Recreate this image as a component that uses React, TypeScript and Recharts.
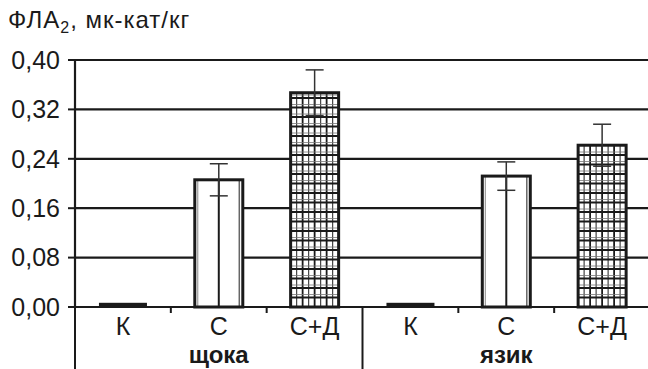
import React from 'react';
import { BarChart, Bar, XAxis, YAxis, CartesianGrid, ErrorBar } from 'recharts';

const categories = ['К', 'С', 'С+Д', 'К', 'С', 'С+Д'];
const groups = ['щока', 'щока', 'щока', 'язик', 'язик', 'язик'];
const values = [0.006, 0.206, 0.347, 0.006, 0.212, 0.262];
const errors = [0, 0.026, 0.037, 0, 0.023, 0.034];
const yTicks = [0, 0.08, 0.16, 0.24, 0.32, 0.4];

const data = categories.map((cat, i) => ({
  cat,
  group: groups[i],
  val: values[i],
  err: errors[i],
}));

const FONT = '"Liberation Sans", Arial, sans-serif';
const INK = '#1a1a1a';

const fmt = (v: number) => v.toFixed(2).replace('.', ',');

function BarShape(props: any) {
  const { x, y, width, height, payload } = props;
  if (!height || height <= 0) return null;
  if (payload.cat === 'К') {
    return <rect x={x} y={y - 0.5} width={width} height={height + 0.5} fill={INK} />;
  }
  if (payload.cat === 'С') {
    return (
      <g>
        <rect x={x} y={y} width={width} height={height} fill="#fff" />
        <line x1={x + 3} x2={x + 3} y1={y} y2={y + height} stroke="#888" strokeWidth={1} />
        <line x1={x + width / 2} x2={x + width / 2} y1={y} y2={y + height} stroke={INK} strokeWidth={2} />
        <line x1={x + width - 3.5} x2={x + width - 3.5} y1={y} y2={y + height} stroke="#666" strokeWidth={1.5} />
        <rect x={x} y={y} width={width} height={height} fill="none" stroke={INK} strokeWidth={3} />
      </g>
    );
  }
  // С+Д: crosshatch
  const cols = 8;
  const cw = width / cols;
  const rh = 9.5;
  const vLines = [];
  for (let c = 1; c < cols; c++) {
    vLines.push(
      <line key={'v' + c} x1={x + c * cw} x2={x + c * cw} y1={y} y2={y + height}
        stroke={c % 2 ? '#444' : INK} strokeWidth={c % 2 ? 1.2 : 1.8} />
    );
  }
  const hLines = [];
  let k = 0;
  for (let yy = y + height - rh; yy > y + 1; yy -= rh) {
    hLines.push(<line key={'h' + k++} x1={x} x2={x + width} y1={yy} y2={yy} stroke={INK} strokeWidth={1.8} />);
    if (yy - 3 > y + 1) {
      hLines.push(<line key={'h' + k++} x1={x} x2={x + width} y1={yy - 3} y2={yy - 3} stroke="#777" strokeWidth={0.8} />);
    }
  }
  return (
    <g>
      <rect x={x} y={y} width={width} height={height} fill="#fff" />
      {vLines}
      {hLines}
      <rect x={x} y={y} width={width} height={height} fill="none" stroke={INK} strokeWidth={3} />
    </g>
  );
}

function CatTick(props: any) {
  const { x, y, payload } = props;
  const i = payload.index;
  const half = payload.offset ?? 48;
  const g = groups[i];
  const showGroup = i === 1 || i === 4;
  return (
    <g>
      <text x={x} y={y + 28} textAnchor="middle" fontSize={25} fontFamily={FONT} fill={INK}>
        {payload.value}
      </text>
      {showGroup && (
        <text x={x} y={y + 56} textAnchor="middle" fontSize={24} fontWeight="bold" fontFamily={FONT} fill={INK}>
          {g}
        </text>
      )}
      {i === 0 && <line x1={x - half} x2={x - half} y1={y} y2={y + 62} stroke={INK} strokeWidth={2} />}
      {i === 2 && <line x1={x + half} x2={x + half} y1={y} y2={y + 62} stroke={INK} strokeWidth={2} />}
      {i !== 2 && i < 5 && <line x1={x + half} x2={x + half} y1={y} y2={y + 6} stroke={INK} strokeWidth={2} />}
    </g>
  );
}

export default function App() {
  return (
    <div style={{ position: 'fixed', left: 0, top: 0, width: 648, height: 369, overflow: 'hidden', background: '#fff' }}>
      <svg width={648} height={40} style={{ position: 'absolute', left: 0, top: 0 }}>
        <text x={8} y={28} fontSize={24} letterSpacing={1} fontFamily={FONT} fill={INK}>
          ФЛА<tspan fontSize={16} dy={5}>2</tspan><tspan dy={-5}>,  мк-кат/кг</tspan>
        </text>
      </svg>
      <div style={{ position: 'absolute', left: 0, top: 0 }}>
        <BarChart
          width={650}
          height={369}
          data={data}
          margin={{ top: 60, right: 0, bottom: 0, left: 0 }}
          barCategoryGap="25%"
        >
          <CartesianGrid vertical={false} stroke={INK} strokeWidth={2.2} />
          <XAxis
            dataKey="cat"
            interval={0}
            height={62}
            tickSize={0}
            tickMargin={0}
            tickLine={false}
            axisLine={{ stroke: INK, strokeWidth: 2.2 }}
            tick={<CatTick />}
          />
          <YAxis
            width={75}
            domain={[0, 0.4]}
            ticks={yTicks}
            tickFormatter={fmt}
            tickSize={7}
            tickMargin={8}
            tickLine={{ stroke: INK, strokeWidth: 2 }}
            axisLine={{ stroke: INK, strokeWidth: 2.2 }}
            tick={{ fontSize: 25, fontFamily: FONT, fill: INK }}
            interval={0}
          />
          <Bar dataKey="val" isAnimationActive={false} shape={<BarShape />}>
            <ErrorBar dataKey="err" width={9} stroke="#333" strokeWidth={1.5} direction="y" />
          </Bar>
        </BarChart>
      </div>
    </div>
  );
}
